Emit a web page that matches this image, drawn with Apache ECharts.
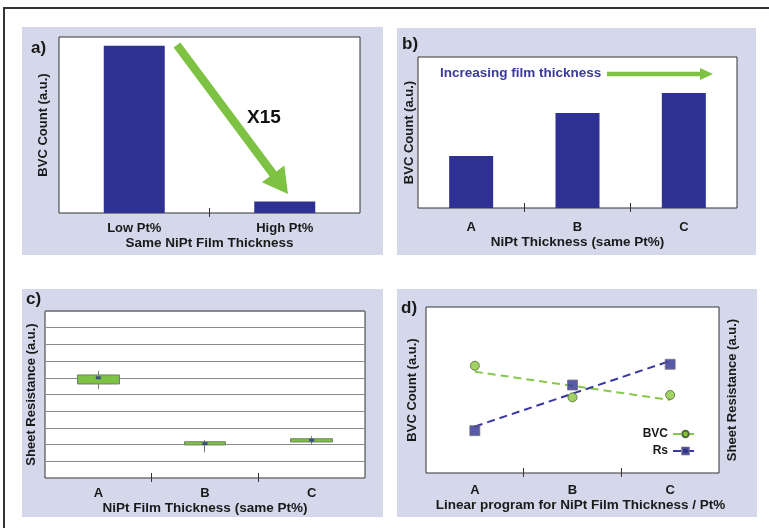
<!DOCTYPE html>
<html><head><meta charset="utf-8">
<script src="https://cdn.jsdelivr.net/npm/echarts@6/dist/echarts.min.js"></script>
<style>html,body{margin:0;padding:0;background:#fff}#c{width:769px;height:528px}</style>
</head><body><div id="c"></div>
<script>
// ---- data ----
const catA = ['Low Pt%', 'High Pt%'];
const bvcA = [95, 6.5];
const catB = ['A', 'B', 'C'];
const bvcB = [34.4, 62.9, 76.2];
const catC = ['A', 'B', 'C'];
// [boxBottom, boxTop, whiskerLow, whiskerHigh]
const rsBox = [[5.63, 6.17, 5.33, 6.41], [1.98, 2.17, 1.54, 2.28], [2.16, 2.35, 1.98, 2.50]];
const rsMid = [6.0, 2.06, 2.26];
const catD = ['A', 'B', 'C'];
const bvcD = [0.646, 0.456, 0.47];
const rsD = [0.255, 0.53, 0.655];
const bvcTrend = [0.61, 0.525, 0.44];
const rsTrend = [0.28, 0.478, 0.675];

const FONT = 'Liberation Sans, Arial, Helvetica, sans-serif';
const TXT = '#1a1a1a';
const NAVY = '#2e3192';
const GREEN = '#7dc242';
const LAV = '#d5d7ea';

const chart = echarts.init(document.getElementById('c'), null, {renderer: 'canvas'});

const gridDefs = [
  {left: 59, top: 37, width: 301, height: 176},
  {left: 418, top: 57, width: 319, height: 151},
  {left: 45, top: 311, width: 320, height: 167},
  {left: 426, top: 307, width: 293, height: 166}
];
const grids = gridDefs.map(g => Object.assign({show: true, backgroundColor: '#fff', borderColor: '#333', borderWidth: 1}, g));

const labelStyle = {fontFamily: FONT, fontWeight: 'bold', fontSize: 13, color: TXT};
const nameStyle = {fontFamily: FONT, fontWeight: 'bold', fontSize: 13.5, color: TXT};
function catAxis(gi, data, name, margin, gap, nameExtra) {
  return {
    type: 'category', gridIndex: gi, data: data, boundaryGap: true,
    axisLine: {show: false}, axisTick: {show: false},
    axisLabel: Object.assign({margin: margin, interval: 0}, labelStyle),
    name: name, nameLocation: 'middle', nameGap: gap,
    nameTextStyle: Object.assign({}, nameStyle, nameExtra || {})
  };
}
function tickAxis(gi, n) {
  const vals = [];
  for (let i = 1; i < n; i++) vals.push(i);
  return {
    type: 'value', gridIndex: gi, min: 0, max: n, position: 'bottom', offset: -5,
    axisLine: {show: false}, axisLabel: {show: false}, splitLine: {show: false},
    axisTick: {show: true, customValues: vals, length: 9, lineStyle: {color: '#333', width: 1}}
  };
}
function yAx(gi, name, gap, extra) {
  return Object.assign({
    type: 'value', gridIndex: gi, min: 0, max: 100,
    axisLine: {show: false}, axisTick: {show: false}, axisLabel: {show: false},
    splitLine: {show: false},
    name: name, nameLocation: 'middle', nameGap: gap, nameRotate: 90,
    nameTextStyle: labelStyle
  }, extra || {});
}

// arrow polygon helper (annotation shapes)
function arrowPoly(sx, sy, tx, ty, headLen, headHalf, shaftHalf) {
  const dx = tx - sx, dy = ty - sy, L = Math.hypot(dx, dy);
  const ux = dx / L, uy = dy / L, nx = -uy, ny = ux;
  const bx = tx - ux * headLen, by = ty - uy * headLen;
  return [
    [sx + nx * shaftHalf, sy + ny * shaftHalf],
    [bx + nx * shaftHalf, by + ny * shaftHalf],
    [bx + nx * headHalf, by + ny * headHalf],
    [tx, ty],
    [bx - nx * headHalf, by - ny * headHalf],
    [bx - nx * shaftHalf, by - ny * shaftHalf],
    [sx - nx * shaftHalf, sy - ny * shaftHalf]
  ];
}

const panelText = (t, x, y) => ({type: 'text', left: x, top: y, z: 100,
  style: {text: t, font: 'bold 17px ' + FONT, fill: TXT}});

const option = {
  animation: false,
  backgroundColor: '#fff',
  grid: grids,
  xAxis: [
    catAxis(0, catA, 'Same NiPt Film Thickness', 9, 23), tickAxis(0, 2),
    catAxis(1, catB, 'NiPt Thickness (same Pt%)', 13, 26), tickAxis(1, 3),
    catAxis(2, catC, 'NiPt Film Thickness (same Pt%)', 9, 22), tickAxis(2, 3),
    catAxis(3, catD, 'Linear program for NiPt Film Thickness / Pt%', 11, 24, {padding: [0, 0, 0, 16]}), tickAxis(3, 3)
  ],
  yAxis: [
    yAx(0, 'BVC Count (a.u.)', 9),
    yAx(1, 'BVC Count (a.u.)', 2),
    yAx(2, 'Sheet Resistance (a.u.)', 7, {max: 10, interval: 1,
      splitLine: {show: true, lineStyle: {color: '#8a8a8a', width: 1}}}),
    yAx(3, 'BVC Count (a.u.)', 7, {max: 1}),
    yAx(3, 'Sheet Resistance (a.u.)', 7, {max: 1, position: 'right'})
  ],
  legend: {
    data: ['BVC', 'Rs'], orient: 'vertical', right: 70, top: 428, align: 'right',
    padding: 0, itemWidth: 25, itemHeight: 8, itemGap: 5, selectedMode: false,
    textStyle: {fontFamily: FONT, fontWeight: 'bold', fontSize: 12, color: TXT}
  },
  series: [
    {type: 'bar', xAxisIndex: 0, yAxisIndex: 0, data: bvcA, barWidth: 61,
      itemStyle: {color: NAVY}},
    {type: 'bar', xAxisIndex: 2, yAxisIndex: 1, data: bvcB, barWidth: 44,
      itemStyle: {color: NAVY}},
    {type: 'candlestick', name: 'box', xAxisIndex: 4, yAxisIndex: 2, data: rsBox, barWidth: 42,
      itemStyle: {color: GREEN, color0: GREEN, borderColor: '#6f7f66', borderColor0: '#6f7f66', borderWidth: 1}},
    {type: 'scatter', name: 'mid', xAxisIndex: 4, yAxisIndex: 2, data: rsMid, symbol: 'rect',
      symbolSize: [5, 3], itemStyle: {color: NAVY}, z: 5},
    {type: 'line', name: 'BVC', xAxisIndex: 6, yAxisIndex: 3, data: bvcTrend,
      symbol: 'circle', showSymbol: false, symbolSize: 9,
      lineStyle: {type: [8, 5], width: 2, color: '#86c84a'},
      itemStyle: {color: '#8cc63f', borderColor: '#4f6b35', borderWidth: 1}},
    {type: 'line', name: 'Rs', xAxisIndex: 6, yAxisIndex: 4, data: rsTrend,
      symbol: 'rect', showSymbol: false, symbolSize: 9,
      lineStyle: {type: [8, 5], width: 2, color: '#3838a4'},
      itemStyle: {color: NAVY, borderColor: '#5a5a8a', borderWidth: 1}},
    {type: 'scatter', name: 'BVC pts', xAxisIndex: 6, yAxisIndex: 3, data: bvcD,
      symbol: 'circle', symbolSize: 9, z: 5,
      itemStyle: {color: '#8cc63f', borderColor: '#4f6b35', borderWidth: 1}},
    {type: 'scatter', name: 'Rs pts', xAxisIndex: 6, yAxisIndex: 4, data: rsD,
      symbol: 'rect', symbolSize: 10, z: 5,
      itemStyle: {color: NAVY, borderColor: '#777', borderWidth: 1}}
  ],
  graphic: [
    {type: 'rect', z: -10, shape: {x: 22, y: 27, width: 361, height: 228}, style: {fill: LAV}},
    {type: 'rect', z: -10, shape: {x: 397, y: 28, width: 359, height: 227}, style: {fill: LAV}},
    {type: 'rect', z: -10, shape: {x: 22, y: 289, width: 361, height: 228}, style: {fill: LAV}},
    {type: 'rect', z: -10, shape: {x: 397, y: 289, width: 360, height: 228}, style: {fill: LAV}},
    {type: 'rect', z: -5, shape: {x: 4, y: 8, width: 800, height: 560}, style: {fill: 'none', stroke: '#333', lineWidth: 2}},
    panelText('a)', 31, 40),
    panelText('b)', 402, 36),
    panelText('c)', 26, 291),
    panelText('d)', 401, 300),
    {type: 'polygon', z: 100, shape: {points: arrowPoly(177, 45, 288, 194, 25, 14, 4.2)}, style: {fill: GREEN}},
    {type: 'text', z: 100, left: 247, top: 108, style: {text: 'X15', font: 'bold 19px ' + FONT, fill: '#111'}},
    {type: 'text', z: 100, left: 440, top: 66, style: {text: 'Increasing film thickness', font: 'bold 13.5px ' + FONT, fill: '#3a3a9c'}},
    {type: 'polygon', z: 100, shape: {points: arrowPoly(607, 74, 713, 74, 13, 6, 2.2)}, style: {fill: GREEN}}
  ]
};
chart.setOption(option);
</script>
</body></html>
